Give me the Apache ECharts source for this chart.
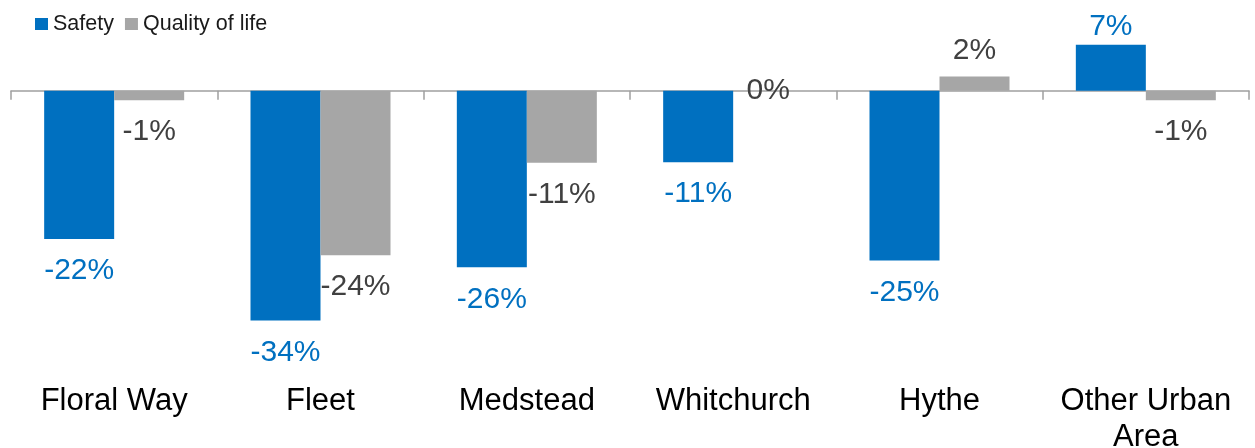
<!DOCTYPE html>
<html>
<head>
<meta charset="utf-8">
<script src="https://cdn.jsdelivr.net/npm/echarts@6/dist/echarts.min.js"></script>
<style>
html,body{margin:0;padding:0;background:#fff;}
#chart{width:1255px;height:448px;}
</style>
</head>
<body>
<div id="chart"></div>
<script>
var categories = ['Floral Way', 'Fleet', 'Medstead', 'Whitchurch', 'Hythe', 'Other Urban\nArea'];
var seriesNames = ['Safety', 'Quality of life'];
var safety = [-22.0, -34.1, -26.2, -10.6, -25.2, 6.8];
var qualityOfLife = [-1.4, -24.4, -10.7, 0, 2.1, -1.4];

var FONT = '"Liberation Sans", Arial, sans-serif';
var BLUE = '#0070C0';
var GRAY = '#A6A6A6';

function buildData(values) {
  return values.map(function (v) {
    var pos, dist;
    if (v === 0) { pos = 'inside'; dist = 0; }
    else if (v > 0) { pos = 'top'; dist = v > 5 ? 3 : 11; }
    else { pos = 'bottom'; dist = 17; }
    return {
      value: v,
      label: { position: pos, distance: dist }
    };
  });
}

var chart = echarts.init(document.getElementById('chart'), null, { renderer: 'canvas' });
chart.setOption({
  animation: false,
  backgroundColor: '#fff',
  legend: {
    left: 30,
    top: 8,
    itemWidth: 13,
    itemHeight: 12,
    itemGap: 11,
    icon: 'rect',
    textStyle: { fontFamily: FONT, fontSize: 21.5, color: '#1a1a1a' },
    data: seriesNames
  },
  grid: { left: 11, right: 6, top: 23.3, bottom: 87.7, containLabel: false, outerBoundsMode: 'none' },
  xAxis: [{
    type: 'category',
    data: categories,
    axisLine: { onZero: true, lineStyle: { color: '#A0A0A0', width: 1.5 } },
    axisTick: { show: true, length: 9, lineStyle: { color: '#A0A0A0', width: 1.5 } },
    axisLabel: { show: false }
  }, {
    type: 'category',
    data: categories,
    position: 'bottom',
    axisLine: { show: false },
    axisTick: { show: false },
    axisLabel: {
      show: true,
      interval: 0,
      margin: 23,
      fontFamily: FONT,
      fontSize: 31,
      lineHeight: 36,
      color: '#000'
    }
  }],
  yAxis: {
    type: 'value',
    min: -40,
    max: 10,
    show: false,
    splitLine: { show: false }
  },
  series: [{
    name: seriesNames[0],
    type: 'bar',
    xAxisIndex: 0,
    barWidth: 70,
    barGap: '0%',
    itemStyle: { color: BLUE },
    label: {
      show: true,
      fontFamily: FONT,
      fontSize: 30,
      lineHeight: 30,
      color: BLUE,
      formatter: function (p) { return Math.round(p.value) + '%'; }
    },
    data: buildData(safety)
  }, {
    name: seriesNames[1],
    type: 'bar',
    xAxisIndex: 0,
    barWidth: 70,
    barGap: '0%',
    itemStyle: { color: GRAY },
    label: {
      show: true,
      fontFamily: FONT,
      fontSize: 30,
      lineHeight: 30,
      color: '#404040',
      formatter: function (p) { return Math.round(p.value) + '%'; }
    },
    data: buildData(qualityOfLife)
  }]
});
</script>
</body>
</html>
